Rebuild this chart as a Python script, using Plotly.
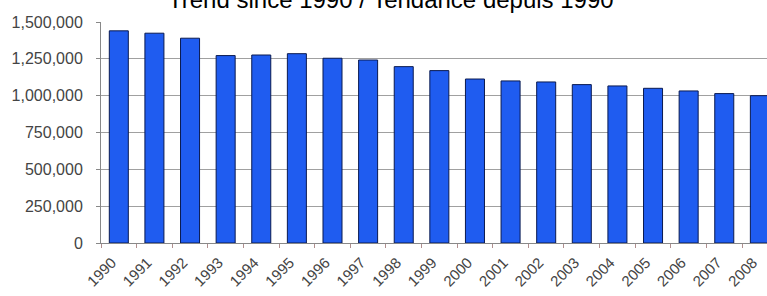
import plotly.graph_objects as go

years = [str(y) for y in range(1990, 2009)]
values = [1440000, 1424000, 1390000, 1272000, 1276000, 1285000, 1254000, 1242000,
          1197000, 1170000, 1113000, 1100000, 1093000, 1075000, 1066000, 1050000,
          1032000, 1014000, 1000000]
y_ticks = [0, 250000, 500000, 750000, 1000000, 1250000, 1500000]
title_text = "Trend since 1990 / Tendance depuis 1990"

fig = go.Figure(go.Bar(
    x=years, y=values,
    marker=dict(color="#1F5CF0", line=dict(color="#0A1A50", width=1)),
))

fig.update_layout(
    width=767, height=296,
    margin=dict(l=101, r=0, t=22, b=53),
    paper_bgcolor="white", plot_bgcolor="white",
    bargap=0.466,
    showlegend=False,
    font=dict(family="Liberation Sans, Arial, sans-serif", color="#444", size=15),
    annotations=[dict(
        text=title_text, xref="paper", yref="paper", x=0.435, y=1, yanchor="bottom",
        xanchor="center", yshift=7, showarrow=False,
        font=dict(size=24, color="#000", family="Liberation Sans, Arial, sans-serif"),
    )],
)
fig.update_xaxes(
    type="category", range=[-0.5, 18.2],
    tickangle=-45, showline=True, linecolor="#888", linewidth=1, automargin=False,
    ticks="outside", ticklen=4, tickcolor="#B09090", ticklabeloverflow="allow",
    tickson="boundaries", ticklabelshift=-7, ticklabelstandoff=4,
    showgrid=False, zeroline=False, tickfont=dict(size=15, color="#444"),
)
fig.update_yaxes(
    range=[0, 1500000], tickmode="array", tickvals=y_ticks,
    ticktext=[f"{v:,}" for v in y_ticks], automargin=False,
    showline=True, linecolor="#888", linewidth=1,
    ticks="outside", ticklen=4, tickcolor="#888",
    showgrid=True, gridcolor="#A0A0A0", gridwidth=1, zeroline=False,
    ticklabelstandoff=10, tickfont=dict(size=16, color="#444"),
)

fig.write_html("out.html", config={"displayModeBar": False},
               post_script="document.body.style.margin='0';")
